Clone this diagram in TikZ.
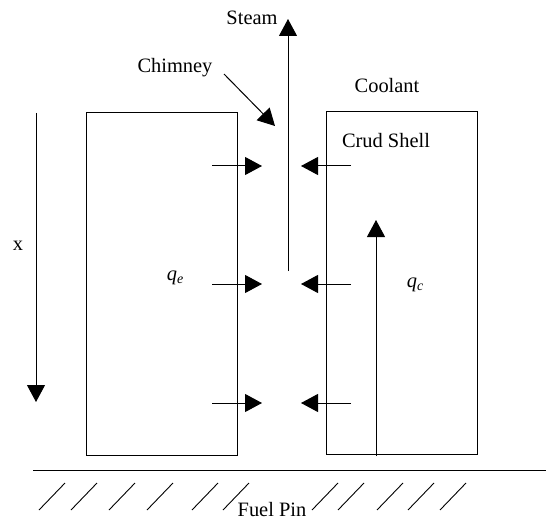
\documentclass[tikz,border=0pt]{standalone}
\usepackage{fontspec}
\setmainfont{Liberation Serif}
\usetikzlibrary{arrows.meta}
\newcommand{\qsub}[2]{\textit{#1}\raisebox{-0.35ex}{\fontsize{14}{16}\selectfont\textit{#2}}}
\begin{document}
\begin{tikzpicture}[x=1bp,y=-1bp,
  line width=1bp,
  arr/.style={-{Triangle[length=17bp,width=18bp]}},
  lbl/.style={font=\fontsize{20.5}{24}\selectfont, inner sep=0pt},
  hatch/.style={line width=0.9bp}]
\useasboundingbox (0,0) rectangle (546,520);
% boxes
\draw (86,113) rectangle (237,455);
\draw (326,112) rectangle (477,454);
% x axis
\coordinate (xa) at (36,113);
\coordinate (xb) at (36,402);
\draw[arr] (xa) -- (xb);
\node[lbl] (xl) at (18,246) {x};
% steam
\coordinate (sa) at (288,271);
\coordinate (sb) at (288,19);
\draw[arr] (sa) -- (sb);
\node[lbl] (steam) at (252,18) {Steam};
% chimney
\node[lbl] (chim) at (175,68) {Chimney};
\coordinate (ca) at (224,74);
\coordinate (cb) at (275,126);
\draw[arr] (ca) -- (cb);
% labels
\node[lbl] (cool) at (387,86) {Coolant};
\node[lbl] (crud) at (386,141) {Crud Shell};
\node[lbl] (qe) at (175,278) {\qsub{q}{e}};
\node[lbl] (qc) at (415,285) {\qsub{q}{c}};
% horizontal arrows
\foreach \y [count=\i] in {166,284,403}{
  \coordinate (l\i a) at (212,\y);
  \coordinate (l\i b) at (262,\y);
  \coordinate (r\i a) at (351,\y);
  \coordinate (r\i b) at (301,\y);
  \draw[arr] (l\i a) -- (l\i b);
  \draw[arr] (r\i a) -- (r\i b);
}
% qc arrow
\coordinate (qa) at (376,456);
\coordinate (qb) at (376,220);
\draw[arr] (qa) -- (qb);
% ground
\coordinate (ga) at (33,470);
\coordinate (gb) at (546,470);
\draw (ga) -- (gb);
\foreach \x in {39,71,109,147,192,223,312,338,377,408,440}{
  \draw[hatch] (\x,510) -- (\x+26,483);
}
\node[lbl] (fp) at (272,510) {Fuel Pin};
\end{tikzpicture}
\end{document}
